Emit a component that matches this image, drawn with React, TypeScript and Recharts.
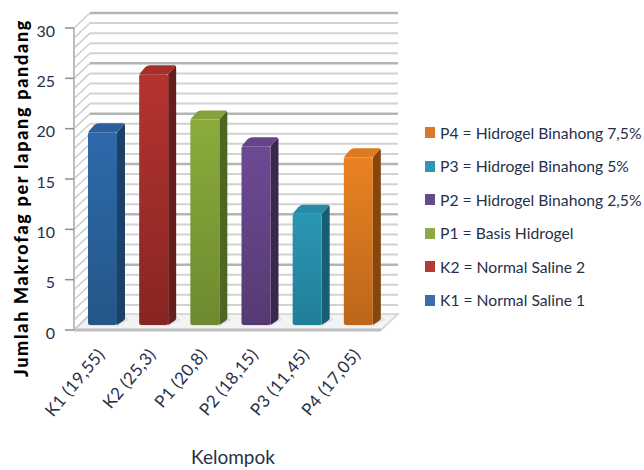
import React from "react";
import { BarChart, Bar, XAxis, YAxis, CartesianGrid } from "recharts";

const categories = ["K1 (19,55)", "K2 (25,3)", "P1 (20,8)", "P2 (18,15)", "P3 (11,45)", "P4 (17,05)"];
const values = [19.55, 25.3, 20.8, 18.15, 11.45, 17.05];
const legendLabels = [
  "P4 = Hidrogel Binahong 7,5%",
  "P3 = Hidrogel Binahong 5%",
  "P2 = Hidrogel Binahong 2,5%",
  "P1 = Basis Hidrogel",
  "K2 = Normal Saline 2",
  "K1 = Normal Saline 1",
];
const legendColors = ["#d9782a", "#2f97b5", "#674a8c", "#8cab45", "#b83a38", "#3a6eaa"];
const faceTop = ["#2e69ab", "#b5332f", "#8aac3c", "#6d4a94", "#2a96b4", "#ea8222"];
const faceBottom = ["#245788", "#872522", "#6c8a2f", "#553a72", "#217e98", "#bb661b"];
const sideColors = ["#1d4067", "#671d1b", "#4f6623", "#3a2850", "#185e72", "#84480f"];
const capColors = ["#2c5f9c", "#a52f2c", "#83a23a", "#654588", "#278ca8", "#dc7a20"];
const yTicks = [0, 5, 10, 15, 20, 25, 30];
const gridValues = Array.from({ length: 31 }, (_, i) => i);

const tableRows = categories.map((name, i) => ({ name, value: values[i], idx: i }));

const FONT = "Lato, sans-serif";
const TEXT = "#27304a";

// Depth of the wall and floor, and of each column.
const WALL_DX = 16;
const WALL_DY = 15;
const BAR_DX = 8;
const BAR_DY = 9;
const BAR_SHIFT_X = 3;
const BAR_SHIFT_Y = 5;
const TOP_DROP = 4;

const GridLine = (props: any) => {
  const { x1, x2, y1, index } = props;
  const value = gridValues[gridValues.length - 1 - index] ?? 0;
  const major = value % 5 === 0;
  const stroke = major ? "#b4b4b4" : "#d2d2d2";
  if (y1 > 325) {
    // The floor slab is drawn where the zero line falls.
    const pts = `${x1},${y1} ${x2},${y1} ${x2 + WALL_DX + 1},${y1 - WALL_DY - 1} ${x1 + WALL_DX},${y1 - WALL_DY - 1}`;
    return (
      <g>
        <polygon points={pts} fill="#f3f3f3" stroke="#cfcfcf" strokeWidth={1.5} />
        <line x1={x1} x2={x2} y1={y1} y2={y1} stroke="#bdbdbd" strokeWidth={3} />
        <line x1={x1} x2={x1 + WALL_DX} y1={y1} y2={y1 - WALL_DY} stroke="#c8c8c8" strokeWidth={1.5} />
      </g>
    );
  }
  return (
    <g>
      <line x1={x1} x2={x1 + WALL_DX} y1={y1} y2={y1 - WALL_DY} stroke="#cdcdcd" strokeWidth={1.5} />
      <line
        x1={x1 + WALL_DX}
        x2={x2 + WALL_DX + 1}
        y1={y1 - WALL_DY}
        y2={y1 - WALL_DY}
        stroke={stroke}
        strokeWidth={major ? 2.5 : 2}
      />
    </g>
  );
};

const Column3D = (props: any) => {
  const { x, y, width, height, payload } = props;
  const i = payload.idx;
  const left = x + BAR_SHIFT_X;
  const right = left + width;
  const top = y - BAR_SHIFT_Y + TOP_DROP;
  const base = y - BAR_SHIFT_Y + height;
  return (
    <g>
      <defs>
        <linearGradient id={`face-${i}`} x1="0" x2="0" y1="0" y2="1">
          <stop offset="0" stopColor={faceTop[i]} />
          <stop offset="1" stopColor={faceBottom[i]} />
        </linearGradient>
      </defs>
      <polygon
        points={`${left},${base + 1} ${right},${base + 1} ${right + BAR_DX + 4},${base - BAR_DY + 4} ${right + BAR_DX},${base - BAR_DY - 1}`}
        fill="#dcdcdc"
        opacity={0.7}
      />
      <path
        d={`M${right},${top} L${right + BAR_DX - 1},${top - BAR_DY + 1} Q${right + BAR_DX},${top - BAR_DY} ${right + BAR_DX},${top - BAR_DY + 3} L${right + BAR_DX},${base - BAR_DY + 2} Q${right + BAR_DX},${base - BAR_DY + 4} ${right + BAR_DX - 2},${base - BAR_DY + 5} L${right},${base} Z`}
        fill={sideColors[i]}
      />
      <path
        d={`M${left},${top} L${left + BAR_DX - 2},${top - BAR_DY + 2} Q${left + BAR_DX},${top - BAR_DY} ${left + BAR_DX + 3},${top - BAR_DY} L${right + BAR_DX - 2},${top - BAR_DY} Q${right + BAR_DX},${top - BAR_DY} ${right + BAR_DX - 1},${top - BAR_DY + 1} L${right},${top} Z`}
        fill={capColors[i]}
      />
      <rect x={left} y={top} width={width} height={base - top} rx={2} fill={`url(#face-${i})`} />
    </g>
  );
};

const RotatedTick = (props: any) => {
  const { x, y, payload } = props;
  return (
    <text
      x={x}
      y={y}
      transform={`rotate(-50 ${x} ${y})`}
      textAnchor="end"
      fontFamily={FONT}
      fontSize={17}
      fill={TEXT}
      letterSpacing={0.4}
    >
      {payload.value}
    </text>
  );
};

export default function App() {
  return (
    <div style={{ position: "absolute", left: 0, top: 0, width: 644, height: 470, background: "#fff", overflow: "hidden" }}>
      <BarChart
        width={644}
        height={470}
        data={tableRows}
        margin={{ top: 28, right: 263, bottom: 40, left: 0 }}
        barCategoryGap={0}
      >
        <CartesianGrid
          vertical={false}
          horizontal={(p: any) => <GridLine {...p} />}
          horizontalValues={gridValues}
        />
        <XAxis
          dataKey="name"
          height={100}
          interval={0}
          axisLine={false}
          tickLine={false}
          tick={(p: any) => <RotatedTick {...p} x={p.x + 6} y={p.y + 17} />}
        />
        <YAxis
          width={74}
          domain={[0, 30]}
          ticks={yTicks}
          interval={0}
          tickSize={9}
          tickMargin={10}
          axisLine={{ stroke: "#bdbdbd", strokeWidth: 2 }}
          tickLine={{ stroke: "#8f8f8f", strokeWidth: 1.5 }}
          tick={{ fontFamily: FONT, fontSize: 16, fill: TEXT, dy: 3 }}
        />
        <Bar dataKey="value" barSize={29} isAnimationActive={false} shape={(p: any) => <Column3D {...p} />} />
      </BarChart>

      <svg width={644} height={470} style={{ position: "absolute", left: 0, top: 0, pointerEvents: "none" }}>
        <text
          x={0}
          y={0}
          transform="translate(28 198) rotate(-90)"
          textAnchor="middle"
          fontFamily={FONT}
          fontWeight={900}
          fontSize={18}
          letterSpacing={1.7}
          fill="#000"
        >
          Jumlah Makrofag per lapang pandang
        </text>
        <text x={233} y={464} textAnchor="middle" fontFamily={FONT} fontSize={19} fill={TEXT}>
          Kelompok
        </text>
      </svg>

      <div style={{ position: "absolute", left: 425, top: 116 }}>
        {legendLabels.map((label, i) => (
          <div
            key={label}
            style={{ display: "flex", alignItems: "center", height: 33.5, fontFamily: FONT, fontSize: 15.7, color: TEXT, whiteSpace: "nowrap" }}
          >
            <span style={{ width: 10, height: 11, background: legendColors[i], marginRight: 5, flex: "none" }} />
            {label}
          </div>
        ))}
      </div>
    </div>
  );
}
